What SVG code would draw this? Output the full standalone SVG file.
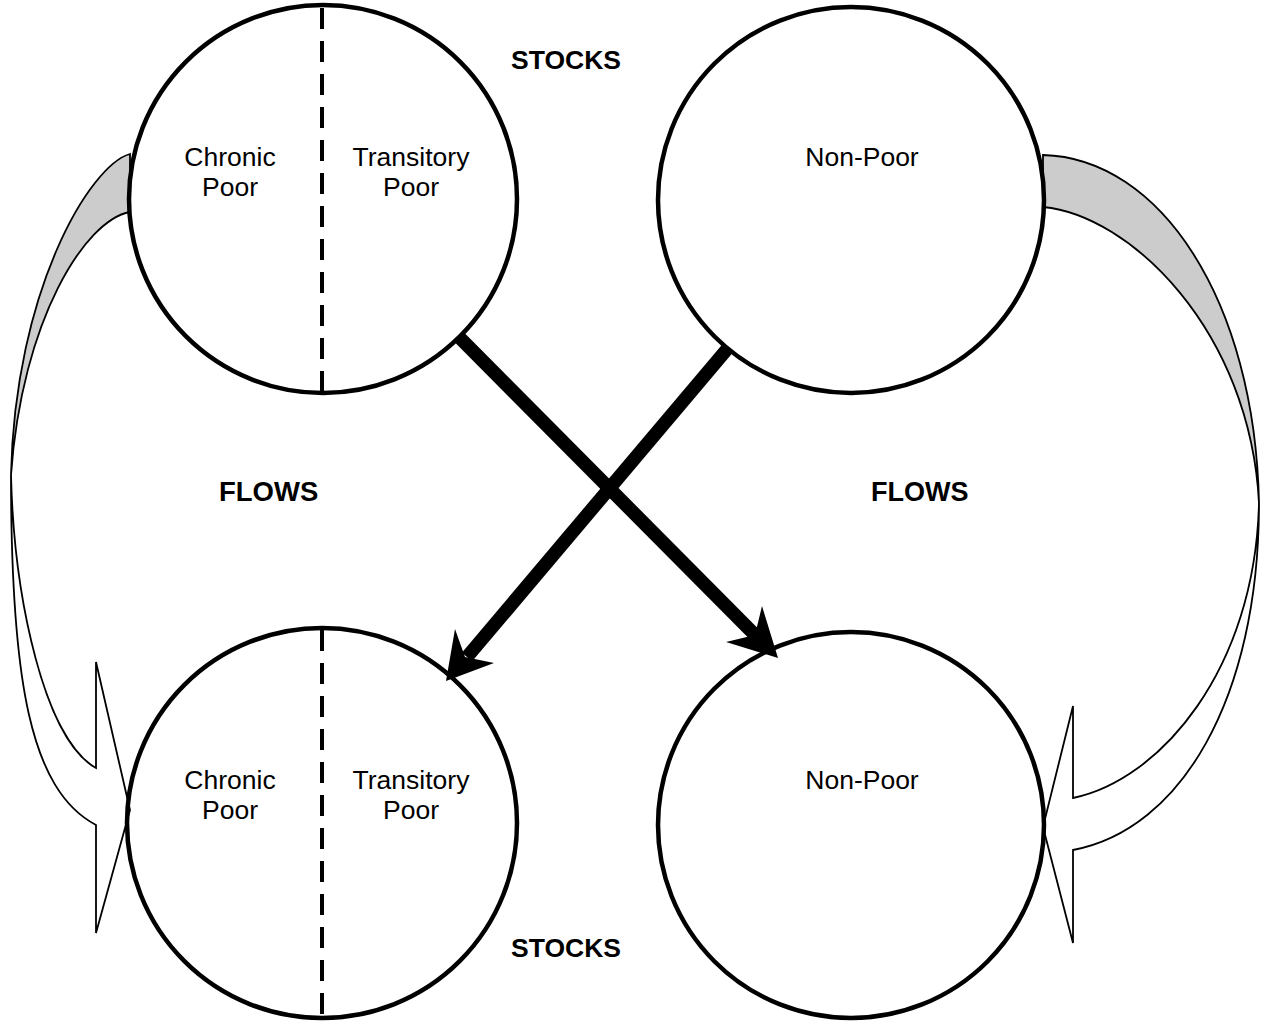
<svg xmlns="http://www.w3.org/2000/svg" width="1269" height="1023" viewBox="0 0 1269 1023">
<style>
.stock{fill:none;stroke:#000;stroke-width:4.5}
.div{stroke:#000;stroke-width:4;stroke-dasharray:21 12}
.lbl{font-family:"Liberation Sans",Arial,sans-serif;font-size:26.5px;text-anchor:middle;fill:#000}
.head{font-family:"Liberation Sans",Arial,sans-serif;font-size:26.5px;font-weight:bold;fill:#000}
.band{stroke:#000;stroke-width:1.8;stroke-linejoin:miter}
.back{fill:#cccccc}
.front{fill:#ffffff}
.flow{stroke:#000;stroke-width:13.5;fill:none;stroke-linecap:butt}
.tip{fill:#000;stroke:none}
</style>
<rect width="1269" height="1023" fill="#fff"/>
<g id="connectors">
<g id="loop-left">
<path class="band back" d="M130,154 C90,165 15,290 11,475 C22,320 85,220 130,212 Z"/>
<path class="band front" d="M11,475 C11,680 30,790 96,825 L96,933 L130,810 L96,662 L96,768 C45,740 14,600 11,475 Z"/>
</g>
<g id="loop-right">
<path class="band back" d="M1043,155 C1160,158 1255,300 1259,503 C1250,330 1130,215 1043,207 Z"/>
<path class="band front" d="M1259,503 C1259,700 1180,830 1073,850 L1073,943 L1043,827 L1073,706 L1073,798 C1160,780 1255,670 1259,503 Z"/>
</g>
<g id="cross-1">
<line class="flow" x1="460" y1="338" x2="757" y2="637"/>
<polygon class="tip" points="778,658 762,606 755,635 726,642"/>
</g>
<g id="cross-2">
<line class="flow" x1="728" y1="348" x2="467" y2="657"/>
<polygon class="tip" points="446,681 455,629 465,657 494,663"/>
</g>
</g>
<g id="stock-top-left">
<circle class="stock" cx="323" cy="199" r="194"/>
<line class="div" x1="322" y1="8" x2="322" y2="393"/>
<text class="lbl" x="230" y="166">Chronic</text>
<text class="lbl" x="230" y="196">Poor</text>
<text class="lbl" x="411" y="166">Transitory</text>
<text class="lbl" x="411" y="196">Poor</text>
</g>
<g id="stock-top-right">
<circle class="stock" cx="851" cy="200" r="193"/>
<text class="lbl" x="862" y="166">Non-Poor</text>
</g>
<g id="stock-bottom-left">
<circle class="stock" cx="322" cy="823" r="195"/>
<line class="div" x1="322" y1="630" x2="322" y2="1018"/>
<text class="lbl" x="230" y="789">Chronic</text>
<text class="lbl" x="230" y="819">Poor</text>
<text class="lbl" x="411" y="789">Transitory</text>
<text class="lbl" x="411" y="819">Poor</text>
</g>
<g id="stock-bottom-right">
<circle class="stock" cx="851" cy="825" r="193"/>
<text class="lbl" x="862" y="789">Non-Poor</text>
</g>
<g id="labels">
<text class="head" x="511" y="69">STOCKS</text>
<text class="head" x="511" y="957">STOCKS</text>
<text class="head" x="219" y="501" style="font-size:27.5px">FLOWS</text>
<text class="head" x="871" y="501" style="font-size:27px">FLOWS</text>
</g>
</svg>
